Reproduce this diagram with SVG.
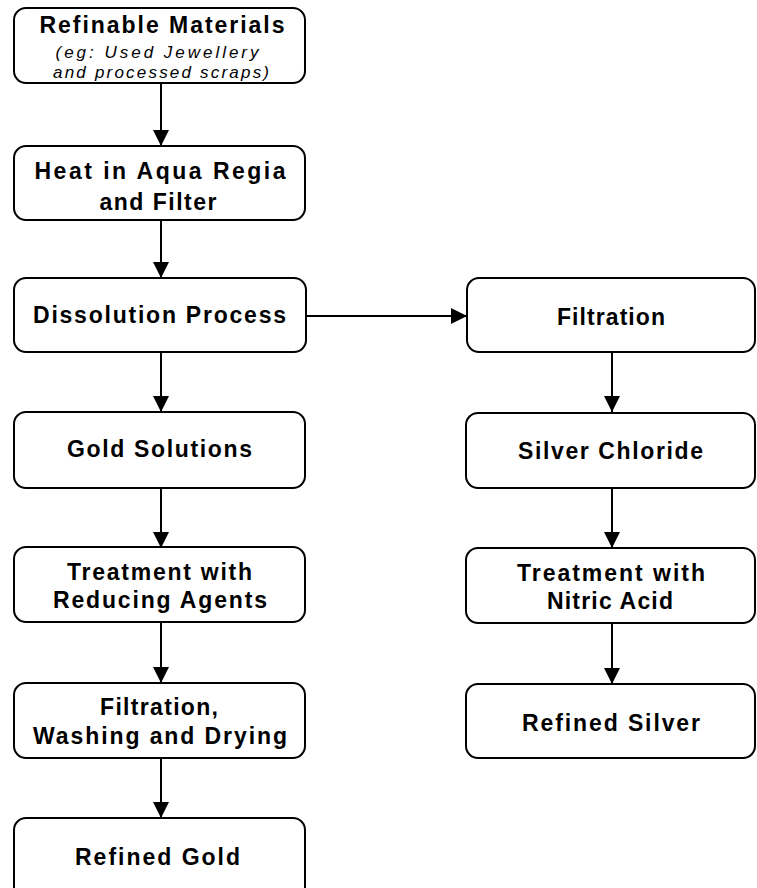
<svg xmlns="http://www.w3.org/2000/svg" width="757" height="888" viewBox="0 0 757 888">
<style>
.box{fill:#fff;stroke:#000;stroke-width:2}
.t{font-family:"Liberation Sans",Arial,sans-serif;font-size:23px;font-weight:bold;fill:#000;text-anchor:middle}
.s{font-family:"Liberation Sans",Arial,sans-serif;font-size:17px;font-style:italic;fill:#000;text-anchor:middle}
.c{stroke:#000;stroke-width:2;fill:none}
</style>
<defs>
<marker id="ah" markerWidth="16" markerHeight="16" refX="16" refY="8" orient="auto" markerUnits="userSpaceOnUse">
<path d="M0,0 L16,8 L0,16 Z" fill="#000"/>
</marker>
</defs>
<rect width="757" height="888" fill="#fff"/>
<g id="connectors">
<line class="c" x1="161" y1="83" x2="161" y2="146" marker-end="url(#ah)"/>
<line class="c" x1="161" y1="220" x2="161" y2="278" marker-end="url(#ah)"/>
<line class="c" x1="161" y1="352" x2="161" y2="412" marker-end="url(#ah)"/>
<line class="c" x1="161" y1="488" x2="161" y2="548" marker-end="url(#ah)"/>
<line class="c" x1="161" y1="622" x2="161" y2="683" marker-end="url(#ah)"/>
<line class="c" x1="161" y1="758" x2="161" y2="818" marker-end="url(#ah)"/>
<line class="c" x1="306" y1="316" x2="467" y2="316" marker-end="url(#ah)"/>
<line class="c" x1="612" y1="352" x2="612" y2="412" marker-end="url(#ah)"/>
<line class="c" x1="612" y1="488" x2="612" y2="548" marker-end="url(#ah)"/>
<line class="c" x1="612" y1="623" x2="612" y2="684" marker-end="url(#ah)"/>
</g>
<g id="n1"><rect class="box" x="14" y="8" width="291" height="75" rx="12"/>
<text class="t" x="162" y="33" textLength="245" lengthAdjust="spacing">Refinable Materials</text>
<text class="s" x="157" y="58" textLength="203" lengthAdjust="spacing">(eg: Used Jewellery</text>
<text class="s" x="161" y="78" textLength="216" lengthAdjust="spacing">and processed scraps)</text></g>
<g id="n2"><rect class="box" x="14" y="146" width="291" height="74" rx="12"/>
<text class="t" x="160" y="179" textLength="251" lengthAdjust="spacing">Heat in Aqua Regia</text>
<text class="t" x="158" y="210" textLength="117" lengthAdjust="spacing">and Filter</text></g>
<g id="n3"><rect class="box" x="14" y="278" width="292" height="74" rx="12"/>
<text class="t" x="159.5" y="323" textLength="253" lengthAdjust="spacing">Dissolution Process</text></g>
<g id="n4"><rect class="box" x="14" y="412" width="291" height="76" rx="12"/>
<text class="t" x="159.5" y="457" textLength="185" lengthAdjust="spacing">Gold Solutions</text></g>
<g id="n5"><rect class="box" x="14" y="547" width="291" height="75" rx="12"/>
<text class="t" x="159.5" y="580" textLength="185" lengthAdjust="spacing">Treatment with</text>
<text class="t" x="160" y="608" textLength="214" lengthAdjust="spacing">Reducing Agents</text></g>
<g id="n6"><rect class="box" x="14" y="683" width="291" height="75" rx="12"/>
<text class="t" x="159" y="715" textLength="118" lengthAdjust="spacing">Filtration,</text>
<text class="t" x="160" y="744" textLength="254" lengthAdjust="spacing">Washing and Drying</text></g>
<g id="n7"><rect class="box" x="14" y="818" width="291" height="90" rx="12"/>
<text class="t" x="157.5" y="865" textLength="165" lengthAdjust="spacing">Refined Gold</text></g>
<g id="n8"><rect class="box" x="467" y="278" width="288" height="74" rx="12"/>
<text class="t" x="611" y="325" textLength="108" lengthAdjust="spacing">Filtration</text></g>
<g id="n9"><rect class="box" x="466" y="413" width="289" height="75" rx="12"/>
<text class="t" x="610.5" y="459" textLength="185" lengthAdjust="spacing">Silver Chloride</text></g>
<g id="n10"><rect class="box" x="466" y="548" width="289" height="75" rx="12"/>
<text class="t" x="611" y="581" textLength="188" lengthAdjust="spacing">Treatment with</text>
<text class="t" x="610" y="609" textLength="126" lengthAdjust="spacing">Nitric Acid</text></g>
<g id="n11"><rect class="box" x="466" y="684" width="289" height="74" rx="12"/>
<text class="t" x="611" y="731" textLength="178" lengthAdjust="spacing">Refined Silver</text></g>
</svg>
